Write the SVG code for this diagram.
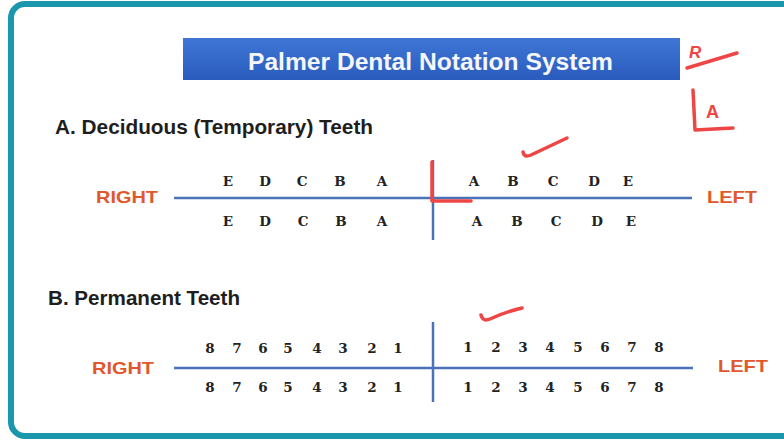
<svg xmlns="http://www.w3.org/2000/svg" width="784" height="440" viewBox="0 0 784 440">
<defs>
<linearGradient id="tg" x1="0" y1="0" x2="0" y2="1">
<stop offset="0" stop-color="#3f76d6"/>
<stop offset="1" stop-color="#2a5bbd"/>
</linearGradient>
<style>
.hd{font-family:"Liberation Sans",Arial,sans-serif;font-weight:bold;fill:#1e1e1e}
.side{font-family:"Liberation Sans",Arial,sans-serif;font-weight:bold;font-size:17px;fill:#e0582c}
.t{font-family:"DejaVu Serif","Liberation Serif",serif;font-weight:bold;font-size:13.5px;fill:#222;text-anchor:middle}
.ax{stroke:#4a72b8;stroke-width:2.5;fill:none}
.red{stroke:#ee4545;stroke-width:3.5;fill:none;stroke-linecap:round;stroke-linejoin:round}
.rt{font-family:"Liberation Sans",Arial,sans-serif;font-weight:bold;fill:#ee4545}
</style>
</defs>
<rect width="784" height="440" fill="#ffffff"/>
<rect x="11" y="4" width="790" height="432" rx="14" fill="#ffffff" stroke="#1a97ab" stroke-width="6"/>

<g id="title">
<rect x="183" y="38" width="497" height="42" fill="url(#tg)"/>
<text x="248" y="70" class="hd" style="fill:#f4f6fb;font-size:24px" textLength="365" lengthAdjust="spacingAndGlyphs">Palmer Dental Notation System</text>
</g>

<g id="heading-a"><text x="55" y="134" class="hd" font-size="21" textLength="318" lengthAdjust="spacingAndGlyphs">A. Deciduous (Temporary) Teeth</text></g>
<g id="heading-b"><text x="48" y="305" class="hd" font-size="21" textLength="192" lengthAdjust="spacingAndGlyphs">B. Permanent Teeth</text></g>

<g id="connectors">
<line class="ax" x1="174" y1="198" x2="692" y2="198"/>
<line class="ax" x1="433" y1="160" x2="433" y2="240"/>
<line class="ax" x1="174" y1="368" x2="693" y2="368"/>
<line class="ax" x1="433" y1="322" x2="433" y2="402"/>
</g>

<g id="deciduous">
<text class="side" x="96" y="203" textLength="62" lengthAdjust="spacingAndGlyphs">RIGHT</text>
<text class="side" x="707" y="203" textLength="50" lengthAdjust="spacingAndGlyphs">LEFT</text>
<g class="t">
<text x="228" y="186">E</text><text x="265" y="186">D</text><text x="302" y="186">C</text><text x="340" y="186">B</text><text x="382" y="186">A</text>
<text x="474" y="186">A</text><text x="513" y="186">B</text><text x="553" y="186">C</text><text x="594" y="186">D</text><text x="628" y="186">E</text>
<text x="228" y="226">E</text><text x="265" y="226">D</text><text x="303" y="226">C</text><text x="341" y="226">B</text><text x="382" y="226">A</text>
<text x="477" y="226">A</text><text x="517" y="226">B</text><text x="556" y="226">C</text><text x="597" y="226">D</text><text x="631" y="226">E</text>
</g>
</g>

<g id="permanent">
<text class="side" x="92" y="374" textLength="62" lengthAdjust="spacingAndGlyphs">RIGHT</text>
<text class="side" x="718" y="372" textLength="50" lengthAdjust="spacingAndGlyphs">LEFT</text>
<g class="t">
<text x="210" y="353">8</text><text x="237" y="353">7</text><text x="263" y="353">6</text><text x="288" y="353">5</text><text x="317" y="353">4</text><text x="343" y="353">3</text><text x="372" y="353">2</text><text x="398" y="353">1</text>
<text x="210" y="392">8</text><text x="237" y="392">7</text><text x="263" y="392">6</text><text x="288" y="392">5</text><text x="317" y="392">4</text><text x="343" y="392">3</text><text x="372" y="392">2</text><text x="398" y="392">1</text>
<text x="468" y="352">1</text><text x="496" y="352">2</text><text x="523" y="352">3</text><text x="550" y="352">4</text><text x="578" y="352">5</text><text x="605" y="352">6</text><text x="632" y="352">7</text><text x="659" y="352">8</text>
<text x="468" y="392">1</text><text x="496" y="392">2</text><text x="523" y="392">3</text><text x="550" y="392">4</text><text x="578" y="392">5</text><text x="605" y="392">6</text><text x="632" y="392">7</text><text x="659" y="392">8</text>
</g>
</g>

<g id="annotations">
<path class="red" d="M432 162 L432 201 L471 201"/>
<path class="red" d="M523 152 Q524 158 531 155 Q550 146 567 138"/>
<path class="red" d="M481 315 Q483 322 490 319 Q505 312 522 308"/>
<text class="rt" x="689" y="58" font-size="17" font-style="italic">R</text>
<path class="red" d="M687 68 L737 53"/>
<path class="red" d="M693 90 L695 130 L733 128"/>
<text class="rt" x="706" y="118" font-size="18">A</text>
</g>
</svg>
